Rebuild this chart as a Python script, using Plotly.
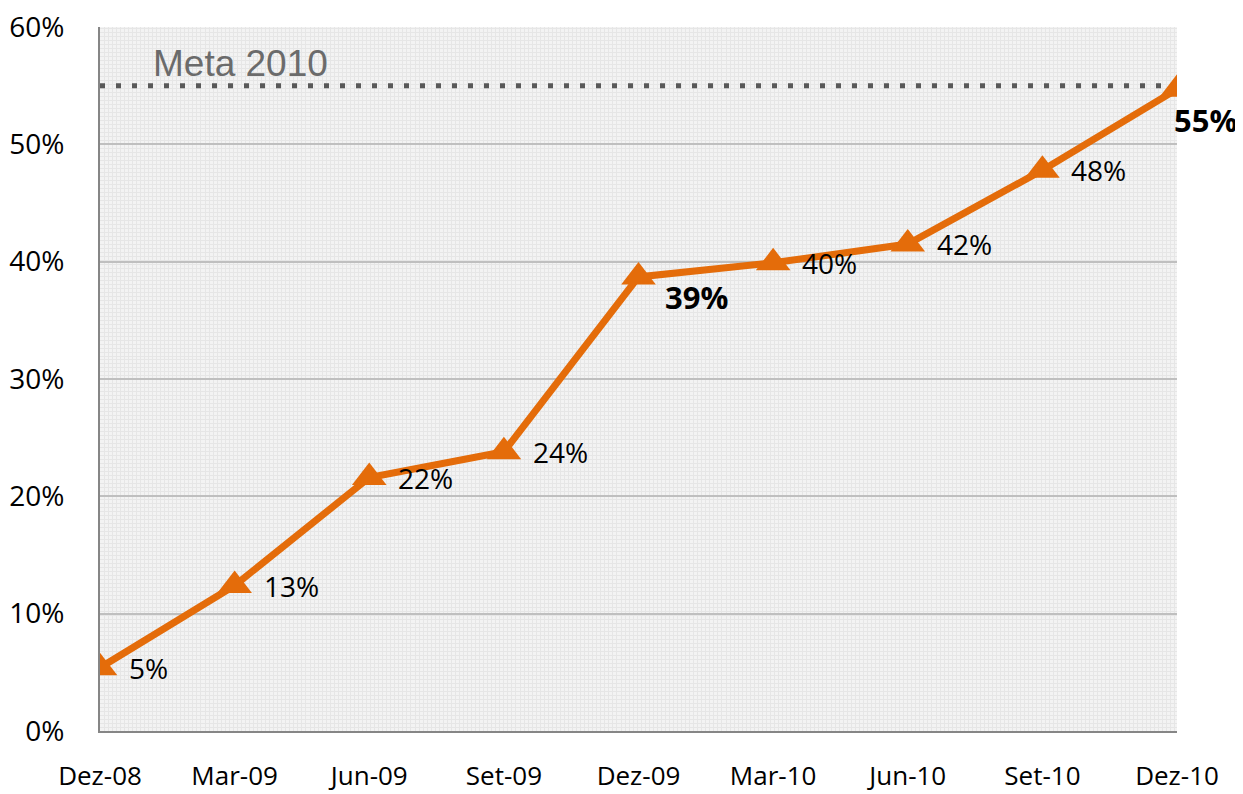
import plotly.graph_objects as go

periods = ['Dez-08', 'Mar-09', 'Jun-09', 'Set-09', 'Dez-09', 'Mar-10', 'Jun-10', 'Set-10', 'Dez-10']
values = [5.4, 12.4, 21.6, 23.8, 38.7, 39.9, 41.5, 47.8, 54.7]
labels = ['5%', '13%', '22%', '24%', '39%', '40%', '42%', '48%', '55%']
bold = [False, False, False, False, True, False, False, False, True]
meta = 55
y_ticks = [0, 10, 20, 30, 40, 50, 60]

orange = '#E46C0A'
xs = list(range(len(periods)))

fig = go.Figure()
# meta line
fig.add_trace(go.Scatter(
    x=[xs[0], xs[-1]], y=[meta, meta], mode='lines',
    line=dict(color='#595959', width=5, dash='5px,11px'),
    hoverinfo='skip', showlegend=False,
))
fig.add_trace(go.Scatter(
    x=xs, y=values, mode='lines+markers',
    line=dict(color=orange, width=7),
    marker=dict(symbol='triangle-up', size=30, color=orange),
    hoverinfo='skip', showlegend=False,
))

fig.add_annotation(x=1.04, y=meta, text='Meta 2010', showarrow=False, yanchor='bottom', yshift=0,
                   font=dict(family='Liberation Sans', size=37, color='#6b6b6b'))

for x, v, t, b in zip(xs, values, labels, bold):
    if b:
        xshift, yshift = (24, -20) if x < len(xs) - 1 else (-5, -31)
        txt = '<b>' + t + '</b>'
        size = 31
    else:
        xshift, yshift = 27, 0
        txt = t
        size = 28
    fig.add_annotation(x=x, y=v, text=txt, showarrow=False, xanchor='left', yanchor='middle',
                       xshift=xshift, yshift=yshift,
                       font=dict(family='Open Sans', size=size, color='black'))

# page body has an 8px margin, so the figure is a bit smaller than the window
fig.update_layout(
    width=1235, height=786,
    margin=dict(l=92, r=66, t=19, b=63),
    plot_bgcolor='#f3f3f3', paper_bgcolor='white',
    font=dict(family='Open Sans', size=28, color='black'),
)
fig.update_xaxes(range=[0, len(periods) - 1], tickvals=xs, ticktext=periods, showgrid=False,
                 showline=True, linecolor='#868686', linewidth=2, zeroline=False,
                 ticks='', ticklabelstandoff=21, tickfont=dict(size=26), automargin=False,
                 ticklabeloverflow='allow',
                 minor=dict(dtick=0.03, showgrid=True, gridcolor='#e6e6e6', gridwidth=1))
fig.update_yaxes(range=[0, 60], tickvals=y_ticks, ticktext=[f'{t}%' for t in y_ticks],
                 showgrid=True, gridcolor='#bfbfbf', gridwidth=1.5,
                 showline=True, linecolor='#868686', linewidth=2, zeroline=False,
                 ticks='', ticklabelstandoff=28, automargin=False,
                 ticklabeloverflow='allow',
                 minor=dict(dtick=0.34, showgrid=True, gridcolor='#e6e6e6', gridwidth=1))

fig.write_html('out.html')
